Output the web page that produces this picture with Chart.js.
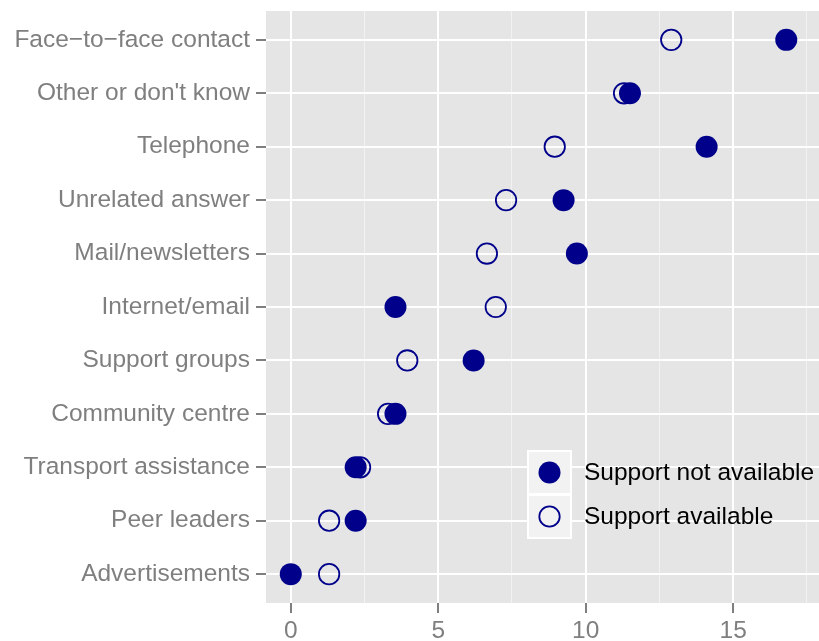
<!DOCTYPE html>
<html>
<head>
<meta charset="utf-8">
<script src="https://cdn.jsdelivr.net/npm/chart.js@4/dist/chart.umd.min.js"></script>
<style>
  html, body { margin: 0; padding: 0; background: #fff; }
  #wrap { width: 819px; height: 641px; }
</style>
</head>
<body>
<div id="wrap"><canvas id="dots" width="819" height="641"></canvas></div>
<script>
const categories = [
    "Face−to−face contact",
    "Other or don't know",
    "Telephone",
    "Unrelated answer",
    "Mail/newsletters",
    "Internet/email",
    "Support groups",
    "Community centre",
    "Transport assistance",
    "Peer leaders",
    "Advertisements"
]
const notAvailable = [16.8, 11.5, 14.1, 9.25, 9.7, 3.55, 6.2, 3.55, 2.2, 2.2, 0]
const available = [12.9, 11.3, 8.95, 7.3, 6.65, 6.95, 3.95, 3.3, 2.35, 1.3, 1.3]
const seriesNames = ["Support not available", "Support available"]
const xTicks = [0, 2.5, 5, 7.5, 10, 12.5, 15, 17.5]

const navy = "#00008B"
const grey = "#7F7F7F"
const font = { family: "'Liberation Sans', Arial, sans-serif", size: 24.5 }

const toPoints = vals => vals.map((v, i) => ({ x: v, y: i }))

// grey panel behind the grid, ggplot style
const panelBg = {
    id: "panelBg",
    beforeDraw(chart) {
        const { ctx, chartArea: a } = chart
        ctx.save()
        ctx.fillStyle = "#E5E5E5"
        ctx.fillRect(a.left, a.top, a.right - a.left, a.bottom - a.top)
        ctx.restore()
    }
}

// legend drawn inside the panel
const insideLegend = {
    id: "insideLegend",
    afterDraw(chart) {
        const { ctx } = chart
        const left = 528, top = 451, key = 43
        ctx.save()
        chart.data.datasets.forEach((ds, i) => {
            const y = top + i * (key + 1)
            ctx.fillStyle = "#F2F2F2"
            ctx.fillRect(left, y, key, key)
            ctx.strokeStyle = "#FFFFFF"
            ctx.lineWidth = 2
            ctx.strokeRect(left, y, key, key)
            const cx = left + key / 2, cy = y + key / 2
            ctx.beginPath()
            ctx.arc(cx, cy, ds.pointRadius, 0, Math.PI * 2)
            if (ds.pointBorderWidth > 0) {
                ctx.lineWidth = ds.pointBorderWidth
                ctx.strokeStyle = ds.pointBorderColor
                ctx.stroke()
            } else {
                ctx.fillStyle = ds.pointBackgroundColor
                ctx.fill()
            }
            ctx.fillStyle = "#000"
            ctx.font = font.size + "px " + font.family
            ctx.textBaseline = "middle"
            ctx.textAlign = "left"
            ctx.fillText(ds.label, 584, cy + 1)
        })
        ctx.restore()
    }
}

const noPad = s => {
    s.paddingTop = 0
    s.paddingBottom = 0
    s.paddingLeft = 0
    s.paddingRight = 0
}

new Chart(document.getElementById("dots"), {
    type: "scatter",
    data: {
        datasets: [
            {
                label: seriesNames[0],
                data: toPoints(notAvailable),
                pointRadius: 11,
                pointBorderWidth: 0,
                pointBackgroundColor: navy,
                pointBorderColor: navy
            },
            {
                label: seriesNames[1],
                data: toPoints(available),
                pointRadius: 10.2,
                pointBorderWidth: 1.8,
                pointBackgroundColor: "rgba(0,0,0,0)",
                pointBorderColor: navy
            }
        ]
    },
    options: {
        responsive: false,
        devicePixelRatio: 1,
        animation: false,
        layout: { autoPadding: false, padding: { top: 11, right: 0, left: 0, bottom: 0 } },
        plugins: { legend: { display: false }, tooltip: { enabled: false } },
        scales: {
            x: {
                type: "linear",
                min: -0.84,
                max: 17.91,
                afterBuildTicks: s => { s.ticks = xTicks.map(v => ({ value: v })) },
                afterFit: s => { s.height = 38; noPad(s) },
                border: { display: false },
                grid: {
                    color: c => (c.tick && c.tick.value % 5 === 0 ? "#FFFFFF" : "#F2F2F2"),
                    lineWidth: c => (c.tick && c.tick.value % 5 === 0 ? 2 : 1),
                    tickColor: c => (c.tick && c.tick.value % 5 === 0 ? grey : "rgba(0,0,0,0)"),
                    tickLength: 10
                },
                ticks: {
                    autoSkip: false,
                    maxRotation: 0,
                    color: grey,
                    font: font,
                    padding: 4,
                    callback: v => (v % 5 === 0 ? String(v) : "")
                }
            },
            y: {
                type: "linear",
                reverse: true,
                min: -0.54,
                max: categories.length - 1 + 0.54,
                afterBuildTicks: s => { s.ticks = categories.map((c, i) => ({ value: i })) },
                afterFit: s => { s.width = 266; noPad(s) },
                border: { display: false },
                grid: {
                    color: "#FFFFFF",
                    lineWidth: 2,
                    tickColor: grey,
                    tickLength: 10
                },
                ticks: {
                    autoSkip: false,
                    color: grey,
                    font: font,
                    padding: 6,
                    callback: v => categories[v]
                }
            }
        }
    },
    plugins: [panelBg, insideLegend]
})
</script>
</body>
</html>
